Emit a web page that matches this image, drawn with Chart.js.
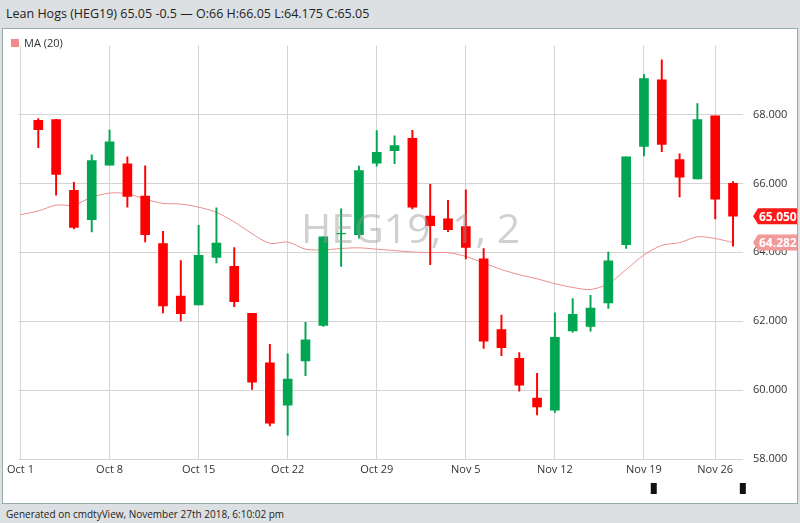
<!DOCTYPE html>
<html><head><meta charset="utf-8">
<script src="https://cdn.jsdelivr.net/npm/chart.js@4"></script>
<style>
body{margin:0;width:800px;height:523px;background:#dde0e3;font-family:"Open Sans",sans-serif;position:relative;overflow:hidden}
#title{position:absolute;left:6px;top:5px;font-size:12.5px;color:#222}
#panel{position:absolute;left:2px;top:28px;width:794px;height:474px;background:#fff;border:1px solid #9aa}
#legend{position:absolute;left:8px;top:6px;font-size:11px;color:#333;z-index:2}
#legend span{display:inline-block;width:8px;height:8px;background:#f08a8a;margin-right:5px}
#wm{position:absolute;left:298px;top:170px;font-size:41px;color:rgba(150,150,150,0.45);font-family:"Open Sans",sans-serif}
#foot{position:absolute;left:6px;top:507px;font-size:10px;color:#222}
</style></head><body>
<div id="title">Lean Hogs (HEG19) 65.05 -0.5 — O:66 H:66.05 L:64.175 C:65.05</div>
<div id="panel"><div id="legend"><span></span>MA (20)</div><div id="wm">HEG19, 1, 2</div><canvas id="c" width="794" height="474"></canvas></div>
<div id="foot">Generated on cmdtyView, November 27th 2018, 6:10:02 pm</div>
<script>
const dates=["Oct 1","Oct 2","Oct 3","Oct 4","Oct 5","Oct 8","Oct 9","Oct 10","Oct 11","Oct 12","Oct 15","Oct 16","Oct 17","Oct 18","Oct 19","Oct 22","Oct 23","Oct 24","Oct 25","Oct 26","Oct 29","Oct 30","Oct 31","Nov 1","Nov 2","Nov 5","Nov 6","Nov 7","Nov 8","Nov 9","Nov 12","Nov 13","Nov 14","Nov 15","Nov 16","Nov 19","Nov 20","Nov 21","Nov 23","Nov 26","Nov 27"];
const opens=[null,67.83,67.85,65.80,64.95,66.53,66.57,65.63,64.25,62.73,62.47,63.85,63.59,62.23,60.79,59.56,60.85,61.88,64.53,64.51,66.59,66.95,67.31,65.05,64.97,64.75,63.81,61.76,60.92,59.77,59.42,61.72,61.85,62.53,64.22,67.07,69.01,66.69,66.13,67.96,66.00];
const highs=[null,67.88,67.85,66.03,66.83,67.55,66.77,66.51,64.61,63.76,64.78,65.29,64.14,62.23,61.33,61.05,61.97,64.45,65.26,66.50,67.53,67.38,67.54,65.97,65.51,65.81,64.11,62.18,61.09,60.49,62.24,62.66,62.75,64.01,66.77,69.16,69.59,66.86,68.32,67.96,66.05];
const lows=[null,67.04,65.66,64.68,64.59,66.53,65.31,64.30,62.24,62.01,62.47,63.69,62.42,60.02,58.96,58.69,60.42,61.85,63.59,64.41,66.50,66.57,65.26,63.64,64.60,63.81,61.21,61.00,59.97,59.28,59.35,61.68,61.71,62.37,64.11,66.80,66.92,65.61,66.13,64.97,64.175];
const closes=[null,67.56,66.26,64.72,66.66,67.21,65.62,64.51,62.44,62.22,63.91,64.27,62.57,60.23,59.04,60.32,61.46,64.45,64.55,66.37,66.90,67.10,65.31,64.77,64.66,64.14,61.42,61.23,60.14,59.51,61.53,62.20,62.38,63.75,66.77,69.04,67.13,66.18,67.85,65.54,65.05];
const ma20=[65.09,65.2,65.37,65.37,65.6,65.72,65.7,65.54,65.42,65.4,65.31,65.16,64.88,64.54,64.26,64.3,64.09,64.07,64.11,64.13,64.09,64.05,64.01,63.99,63.99,63.88,63.69,63.5,63.35,63.23,63.09,62.98,62.92,63.09,63.5,63.92,64.2,64.28,64.45,64.4,64.282];
const yTicks=[58,60,62,64,66,68];
const xTickIdx=[0,5,10,15,20,25,30,35,39];
const RED='#ff0000',GREEN='#00a651';
const idx=dates.map((d,i)=>i);
const col=idx.map(i=>closes[i]>=opens[i]?GREEN:RED);
const wick=idx.filter(i=>opens[i]!==null).map(i=>({x:i,y:[lows[i],highs[i]]}));
const body=idx.filter(i=>opens[i]!==null).map(i=>({x:i,y:[opens[i],closes[i]]}));
const wcol=idx.filter(i=>opens[i]!==null).map(i=>col[i]);
const tagPlugin={id:'tags',afterDraw(ch){
  const c=ch.ctx,y=ch.scales.y,x0=ch.chartArea.right+10;
  [[65.05,'#ff1a1a','65.050'],[64.282,'#f29a9a','64.282']].forEach(([v,cl,t])=>{
    const py=y.getPixelForValue(v);
    c.fillStyle=cl;c.beginPath();c.moveTo(x0,py);c.lineTo(x0+5,py-8);c.lineTo(x0+48,py-8);c.lineTo(x0+48,py+8);c.lineTo(x0+5,py+8);c.closePath();c.fill();
    c.fillStyle='#fff';c.font='bold 12px "Open Sans"';c.textBaseline='middle';c.fillText(t,x0+6,py+1);
  });
  c.fillStyle='#111';
  [35.55,40.55].forEach(v=>{const px=ch.scales.x.getPixelForValue(v);c.fillRect(px-3,ch.chartArea.bottom+24,6,11);});
}};
new Chart(document.getElementById('c'),{
  data:{datasets:[
    {type:'line',data:idx.map(i=>({x:i,y:ma20[i]})),borderColor:'#ee8c8c',borderWidth:1,pointRadius:0,tension:0.3,order:3},
    {type:'bar',data:wick,backgroundColor:wcol,barThickness:1.3,grouped:false,order:2},
    {type:'bar',data:body,backgroundColor:wcol,barThickness:9,grouped:false,order:1}
  ]},
  options:{responsive:false,animation:false,
    layout:{padding:{left:13,top:10,right:0,bottom:0}},
    plugins:{legend:{display:false},tooltip:{enabled:false}},
    scales:{
      x:{type:'linear',min:-0.11,max:40.56,offset:false,
        afterBuildTicks:s=>{s.ticks=xTickIdx.map(v=>({value:v}));},
        ticks:{autoSkip:false,maxRotation:0,color:'#333',font:{size:11,family:'Open Sans'},callback:v=>dates[v],padding:4},
        grid:{color:'#d4d4d4',drawTicks:false,offset:false},border:{display:false},
        afterFit:s=>{s.height=44;}},
      y:{position:'right',min:58,max:70,
        afterBuildTicks:s=>{s.ticks=yTicks.map(v=>({value:v}));},
        ticks:{color:'#333',font:{size:11,family:'Open Sans'},callback:v=>v.toFixed(3),padding:10},
        grid:{color:'#d4d4d4',drawTicks:false},border:{display:false},
        afterFit:s=>{s.width=54;}}
    }},
  plugins:[tagPlugin]
});
</script></body></html>
